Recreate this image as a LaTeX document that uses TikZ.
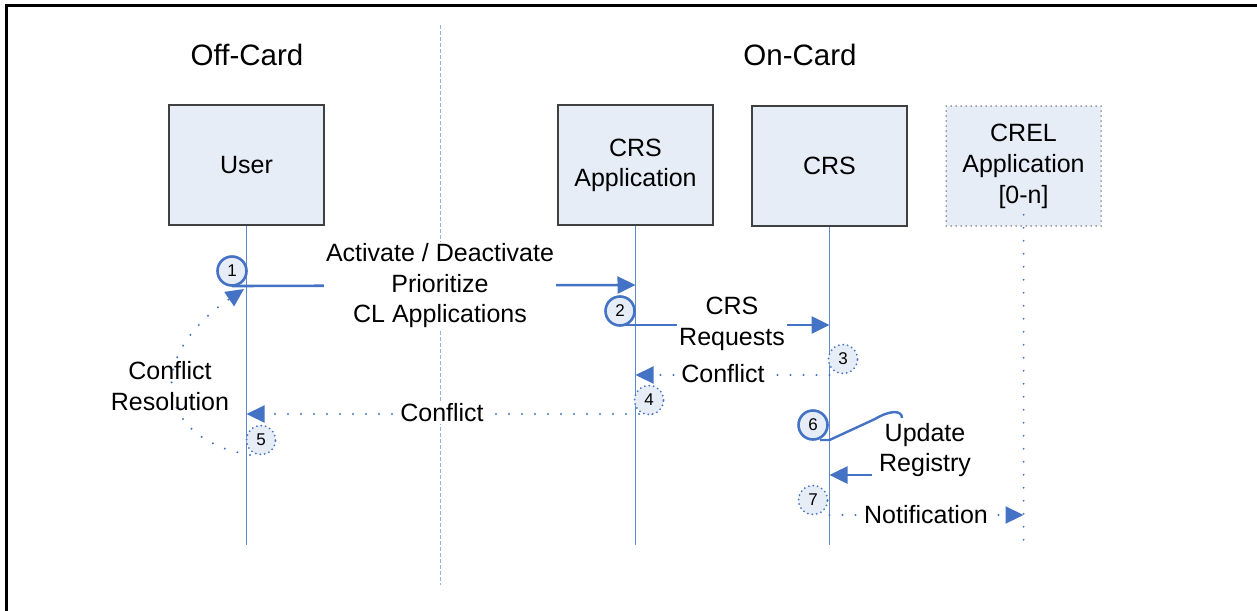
\documentclass[tikz,border=0pt]{standalone}
\usepackage{fontspec}
\setmainfont{Liberation Sans}
\usetikzlibrary{arrows.meta}
\definecolor{lineblue}{RGB}{68,114,196}
\definecolor{lifeblue}{RGB}{91,137,208}
\definecolor{boxfill}{RGB}{230,237,247}
\definecolor{sepblue}{RGB}{150,180,222}
\tikzset{
  lifebox/.style={draw=black!75, line width=1.3pt, fill=boxfill, minimum width=155pt, minimum height=120pt, inner sep=0pt, font=\fontsize{25}{31}\selectfont, align=center},
  crelbox/.style={lifebox, draw=black!70, line width=1.5pt, dash pattern=on 0pt off 5pt, line cap=round},
  lifeline/.style={draw=lifeblue, line width=1.4pt},
  dotline/.style={draw=lineblue, line width=2.2pt, dash pattern=on 0pt off 13pt, line cap=round},
  msg/.style={draw=lineblue, line width=2.6pt},
  tip/.style={-{Triangle[length=18pt,width=17pt]}},
  lbl/.style={fill=white, inner sep=2pt, font=\fontsize{25}{30.5}\selectfont, align=center},
  ttl/.style={font=\fontsize{29.5}{34}\selectfont},
  numc/.style={circle, draw=lineblue, line width=2.6pt, fill=boxfill, minimum size=29pt, inner sep=0pt, font=\fontsize{17}{17}\selectfont},
  numd/.style={circle, draw=lineblue, line width=2pt, dash pattern=on 0pt off 4.5pt, line cap=round, fill=boxfill, minimum size=29pt, inner sep=0pt, font=\fontsize{17}{17}\selectfont},
}
\begin{document}
\begin{tikzpicture}[x=1pt,y=-1pt]
\useasboundingbox (0,0) rectangle (1257,610);
% frame
\draw[line width=3pt] (6,612) -- (6,6) -- (1259,6);
% separator
\coordinate (sepT) at (440.5,25);
\coordinate (sepB) at (440.5,585);
\draw[sepblue, line width=1.6pt, dash pattern=on 4pt off 2pt] (sepT) -- (sepB);
% titles
\node[ttl] (offcard) at (247,55) {Off-Card};
\node[ttl] (oncard) at (800,55) {On-Card};
% boxes
\node[lifebox] (user) at (246.5,165) {User};
\node[lifebox] (crsapp) at (635.5,165) {\raisebox{-4pt}{\begin{tabular}{@{}c@{}}CRS\\[-1pt]Application\end{tabular}}};
\node[lifebox] (crs) at (829.5,166) {CRS};
\node[crelbox] (crel) at (1023.5,166) {CREL\\Application\\{[0-n]}};
% lifeline ends
\coordinate (userE) at (246.5,545);
\coordinate (crsappE) at (635.5,545);
\coordinate (crsE) at (829.5,545);
\coordinate (crelE) at (1023.5,540);
\draw[lifeline] (user.south) -- (userE);
\draw[lifeline] (crsapp.south) -- (crsappE);
\draw[lifeline] (crs.south) -- (crsE);
\draw[dotline, line width=2pt] ([yshift=12pt]crel.south) -- (crelE);
% message points
\coordinate (m1s) at (232,286);
\coordinate (m1e) at (635.5,285);
\coordinate (m2s) at (622,325);
\coordinate (m2e) at (829.5,325);
\coordinate (m3s) at (829.5,375);
\coordinate (m3e) at (635.5,375);
\coordinate (m4s) at (652,414);
\coordinate (m4e) at (246.5,414);
\coordinate (m5s) at (250,455);
\coordinate (m5e) at (244,289);
\coordinate (m6a) at (820,440);
\coordinate (m6b) at (829.5,440);
\coordinate (m6c) at (875,419);
\coordinate (m6d) at (902,418);
\coordinate (m6s) at (872,475);
\coordinate (m6e) at (829.5,475);
\coordinate (m7s) at (829.5,515);
\coordinate (m7e) at (1023.5,515);
% messages
\draw[msg, tip] (m1s) -- (m1e);
\draw[msg, tip] (m2s) -- (m2e);
\draw[dotline, tip] (m3s) -- (m3e);
\draw[dotline, tip] (m4s) -- (m4e);
\draw[dotline, tip] (m5s) .. controls (160,440) and (140,360) .. (m5e);
\draw[msg, line width=2.4pt] (m6a) -- (m6b) -- (m6c) .. controls (890,410) and (902,410) .. (m6d);
\draw[msg, tip] (m6s) -- (m6e);
\draw[dotline, tip] (m7s) -- (m7e);
% labels
\node[lbl] (l1) at (440,286) {Activate / Deactivate\\Prioritize\\CL Applications};
\node[lbl] (l2) at (732,324) {CRS\\Requests};
\node[lbl] (l3) at (723,374) {Conflict};
\node[lbl] (l4) at (442,413) {Conflict};
\node[lbl, fill=none] (l5) at (170,386) {Conflict\\Resolution};
\node[lbl, fill=none] (l6) at (925,450) {Update\\Registry};
\node[lbl] (l7) at (926,515) {Notification};
% step numbers
\node[numc] (n1) at (232,271) {1};
\node[numc] (n2) at (620,311) {2};
\node[numd] (n3) at (843,359) {3};
\node[numd] (n4) at (649,400) {4};
\node[numd] (n5) at (261,440) {5};
\node[numc] (n6) at (813,425) {6};
\node[numd] (n7) at (813,500) {7};
\end{tikzpicture}
\end{document}
